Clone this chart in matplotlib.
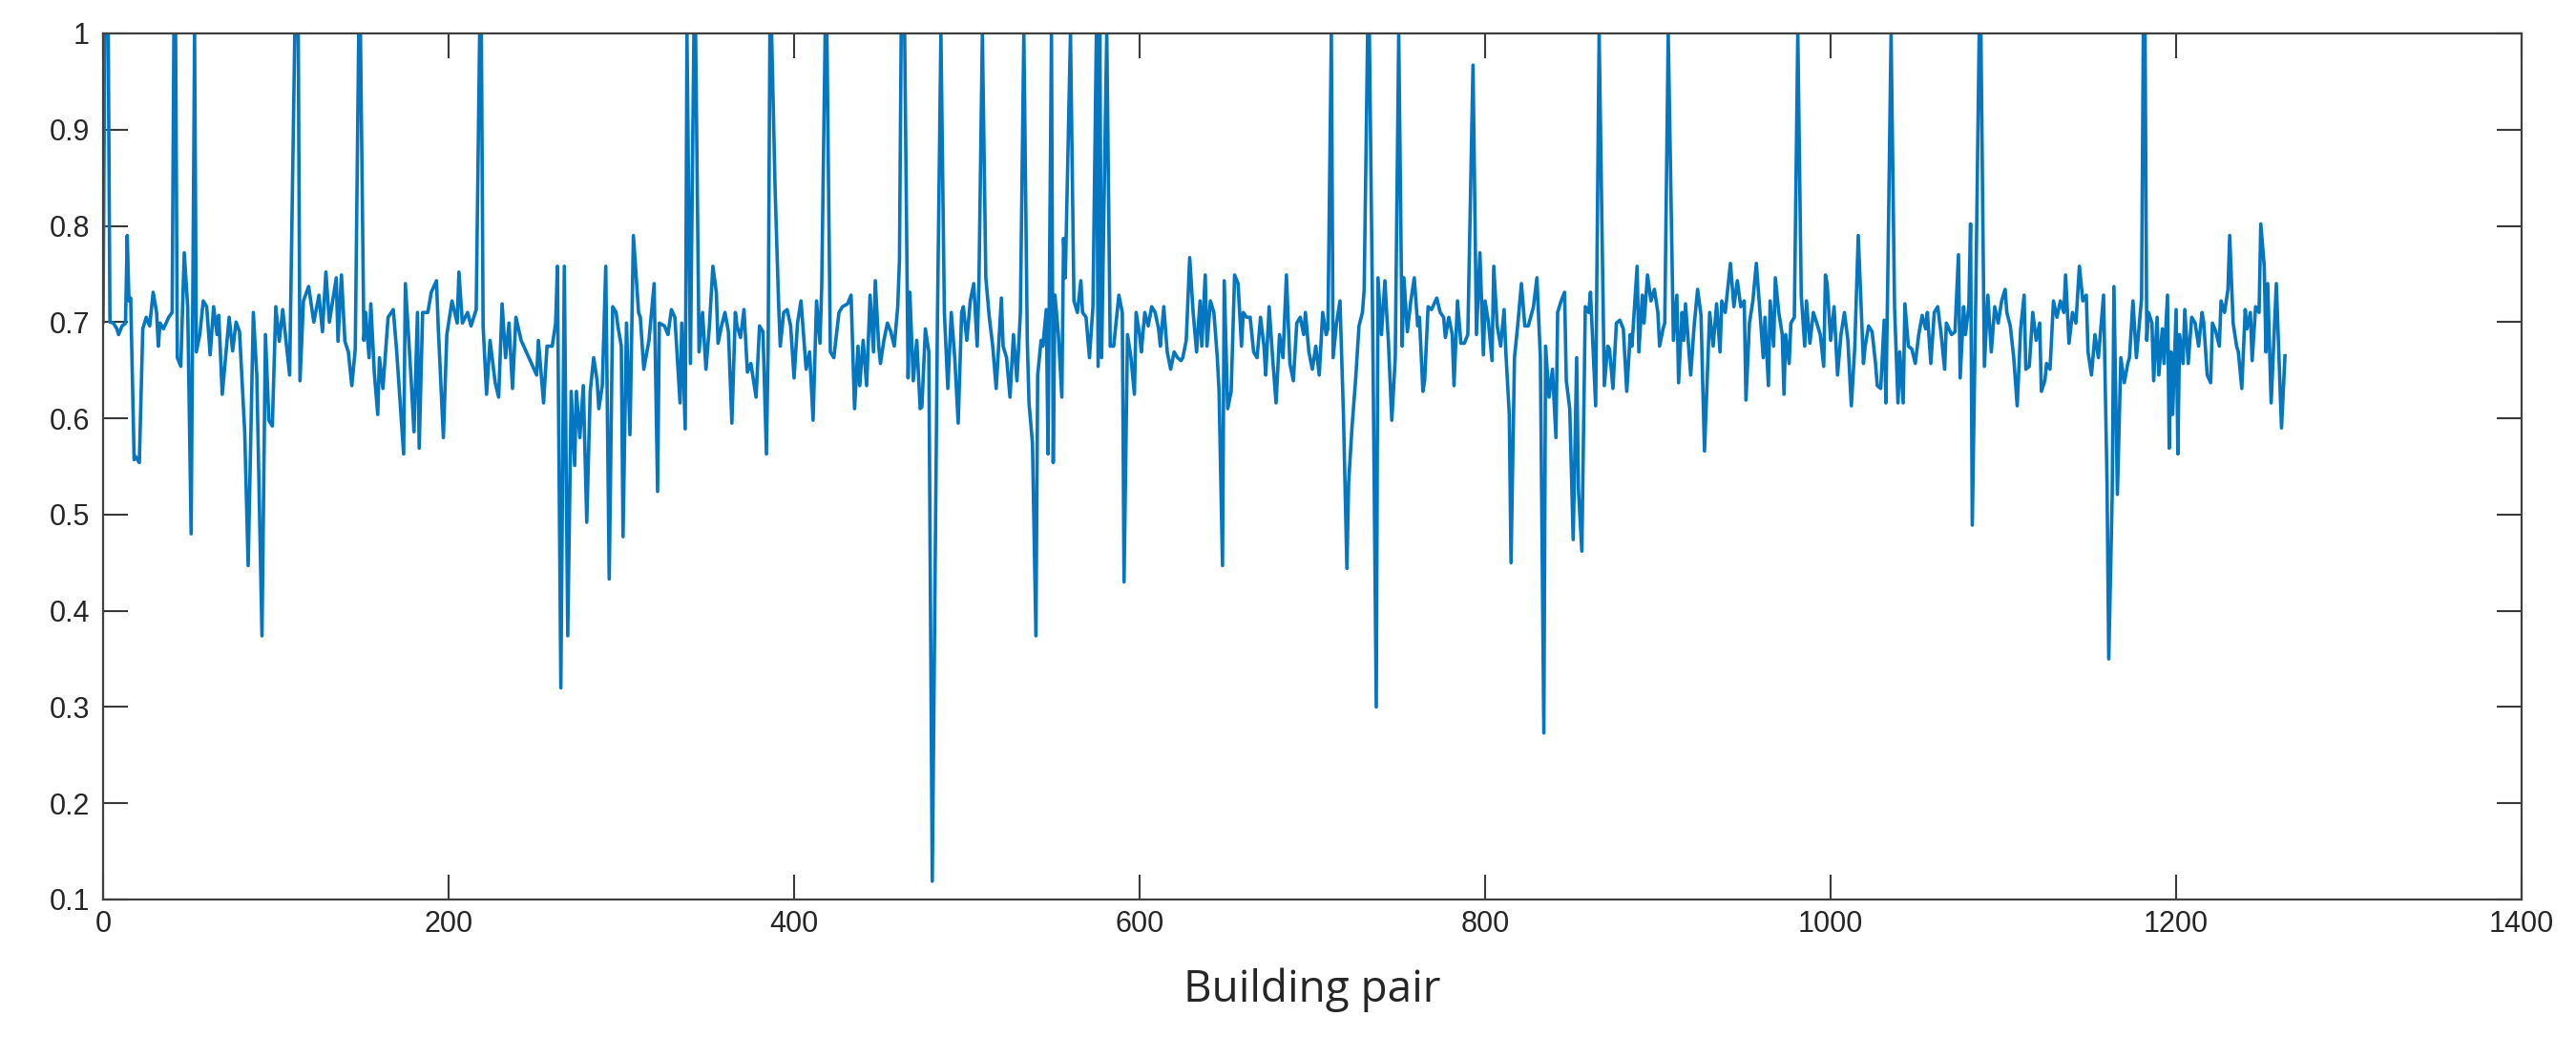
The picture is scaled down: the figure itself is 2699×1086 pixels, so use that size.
import matplotlib.pyplot as plt

plt.rcParams['font.family'] = ['Liberation Sans', 'DejaVu Sans']

# (building pair index, similarity), segment by segment
seg_0_150 = [(0, 0.70), (1, 1.0), (3, 1.0), (4, 0.70), (6, 0.699), (8, 0.693), (9, 0.687), (11, 0.696),
             (13, 0.699), (14, 0.790), (15, 0.722), (16, 0.725), (18, 0.557), (19, 0.560), (21, 0.554),
             (23, 0.693), (25, 0.705), (27, 0.696), (29, 0.731), (31, 0.710), (32, 0.675), (33, 0.699),
             (35, 0.693), (38, 0.705), (40, 0.710), (41, 1.0), (42, 1.0), (43, 0.663), (45, 0.654),
             (47, 0.772), (49, 0.716), (51, 0.480), (53, 1.0), (54, 0.669), (56, 0.687), (58, 0.722),
             (60, 0.716), (62, 0.666), (64, 0.716), (66, 0.687), (67, 0.707), (69, 0.625), (73, 0.705),
             (75, 0.670), (77, 0.700), (79, 0.690), (82, 0.586), (84, 0.447), (87, 0.710), (89, 0.645),
             (92, 0.374), (94, 0.687), (96, 0.598), (98, 0.592), (100, 0.716), (102, 0.680), (104, 0.713),
             (108, 0.645), (111, 1.0), (113, 1.0), (114, 0.639), (116, 0.722), (119, 0.737), (122, 0.700),
             (125, 0.728), (127, 0.690), (129, 0.752), (131, 0.700), (135, 0.746), (136, 0.680),
             (138, 0.749), (140, 0.680), (142, 0.669), (144, 0.634), (146, 0.672), (148, 1.0), (149, 1.0)]

seg_150_295 = [(151, 0.681), (152, 0.710), (154, 0.663), (155, 0.719), (157, 0.648), (159, 0.604),
               (160, 0.663), (162, 0.631), (165, 0.705), (168, 0.713), (170, 0.669), (174, 0.563),
               (175, 0.740), (178, 0.651), (180, 0.586), (182, 0.710), (183, 0.569), (185, 0.710),
               (188, 0.710), (190, 0.731), (193, 0.743), (194, 0.696), (197, 0.580), (199, 0.687),
               (202, 0.722), (205, 0.699), (206, 0.752), (208, 0.699), (211, 0.710), (213, 0.696),
               (216, 0.713), (218, 1.0), (219, 1.0), (220, 0.696), (222, 0.625), (224, 0.681), (227, 0.637),
               (229, 0.622), (231, 0.719), (233, 0.663), (235, 0.699), (237, 0.631), (239, 0.705),
               (242, 0.681), (245, 0.669), (248, 0.657), (251, 0.645), (252, 0.681), (255, 0.616),
               (257, 0.675), (260, 0.675), (262, 0.699), (263, 0.758), (265, 0.320), (267, 0.758),
               (269, 0.374), (271, 0.628), (273, 0.551), (274, 0.628), (276, 0.580), (278, 0.634),
               (280, 0.492), (282, 0.628), (284, 0.663), (286, 0.639), (287, 0.610), (289, 0.634),
               (291, 0.758), (293, 0.433)]

seg_295_445 = [(295, 0.716), (297, 0.710), (298, 0.696), (300, 0.675), (301, 0.477), (303, 0.699),
               (305, 0.583), (306, 0.687), (307, 0.790), (310, 0.710), (311, 0.705), (313, 0.651),
               (316, 0.681), (319, 0.740), (321, 0.524), (322, 0.699), (325, 0.696), (327, 0.687),
               (329, 0.713), (331, 0.705), (334, 0.616), (335, 0.699), (337, 0.589), (338, 1.0),
               (340, 0.657), (342, 1.0), (343, 1.0), (345, 0.669), (347, 0.710), (349, 0.651), (351, 0.696),
               (353, 0.758), (355, 0.731), (356, 0.678), (358, 0.696), (360, 0.710), (362, 0.690),
               (364, 0.595), (366, 0.710), (367, 0.696), (369, 0.684), (371, 0.713), (373, 0.648),
               (375, 0.657), (378, 0.622), (380, 0.696), (382, 0.690), (384, 0.563), (385, 0.675),
               (386, 1.0), (387, 1.0), (389, 0.840), (391, 0.722), (392, 0.675), (394, 0.710), (396, 0.713),
               (398, 0.696), (400, 0.642), (402, 0.699), (404, 0.722), (407, 0.651), (409, 0.669),
               (411, 0.598), (413, 0.722), (415, 0.678), (416, 0.737), (418, 1.0), (419, 1.0), (421, 0.669),
               (423, 0.663), (426, 0.710), (428, 0.716), (431, 0.719), (433, 0.728), (435, 0.610),
               (437, 0.675), (438, 0.634), (440, 0.681), (442, 0.634), (444, 0.728)]

seg_445_592 = [(446, 0.669), (447, 0.743), (449, 0.675), (450, 0.657), (452, 0.681), (454, 0.699),
               (456, 0.690), (458, 0.675), (460, 0.716), (461, 0.764), (462, 1.0), (464, 1.0), (466, 0.642),
               (467, 0.731), (469, 0.639), (471, 0.681), (473, 0.610), (474, 0.612), (476, 0.693),
               (478, 0.669), (480, 0.119), (483, 0.705), (485, 1.0), (487, 0.710), (489, 0.631),
               (491, 0.710), (493, 0.663), (495, 0.595), (497, 0.710), (498, 0.716), (500, 0.681),
               (502, 0.722), (504, 0.740), (506, 0.675), (507, 0.740), (509, 1.0), (511, 0.746),
               (513, 0.705), (515, 0.675), (517, 0.631), (520, 0.725), (521, 0.675), (523, 0.663),
               (525, 0.622), (527, 0.687), (529, 0.639), (531, 0.710), (533, 1.0), (535, 0.681),
               (536, 0.616), (538, 0.574), (540, 0.374), (541, 0.645), (543, 0.681), (544, 0.675),
               (546, 0.713), (547, 0.563), (549, 1.0), (550, 0.554), (551, 0.728), (553, 0.687),
               (555, 0.622), (556, 0.787), (557, 0.746), (560, 1.0), (562, 0.722), (564, 0.710),
               (566, 0.743), (567, 0.710), (569, 0.705), (571, 0.663), (573, 0.716), (575, 1.0),
               (576, 0.654), (577, 1.0), (578, 0.663), (581, 1.0), (583, 0.675), (585, 0.675), (588, 0.728),
               (590, 0.710), (591, 0.430)]

seg_592_744 = [(593, 0.687), (595, 0.663), (597, 0.625), (598, 0.710), (600, 0.687), (601, 0.669),
               (603, 0.710), (605, 0.696), (607, 0.716), (609, 0.710), (611, 0.693), (612, 0.675),
               (614, 0.716), (616, 0.669), (618, 0.651), (620, 0.669), (622, 0.663), (624, 0.660),
               (625, 0.663), (627, 0.681), (629, 0.767), (631, 0.710), (633, 0.669), (635, 0.722),
               (636, 0.675), (638, 0.749), (639, 0.675), (641, 0.722), (643, 0.710), (645, 0.663),
               (646, 0.628), (648, 0.447), (649, 0.743), (651, 0.610), (653, 0.628), (655, 0.749),
               (657, 0.740), (659, 0.675), (660, 0.710), (662, 0.705), (664, 0.705), (666, 0.669),
               (668, 0.663), (670, 0.705), (672, 0.675), (673, 0.645), (675, 0.716), (677, 0.663),
               (679, 0.616), (681, 0.687), (683, 0.663), (685, 0.749), (687, 0.657), (689, 0.639),
               (691, 0.699), (693, 0.705), (695, 0.687), (696, 0.710), (698, 0.669), (700, 0.651),
               (702, 0.675), (704, 0.645), (706, 0.710), (708, 0.687), (709, 0.693), (711, 1.0),
               (712, 0.663), (714, 0.699), (716, 0.722), (718, 0.604), (720, 0.444), (721, 0.533),
               (723, 0.592), (725, 0.639), (727, 0.696), (729, 0.710), (730, 0.734), (732, 1.0), (733, 1.0),
               (735, 0.687), (737, 0.300), (738, 0.746), (740, 0.687), (742, 0.743), (743, 0.710)]

seg_744_893 = [(744, 0.681), (746, 0.598), (748, 0.663), (750, 1.0), (752, 0.675), (753, 0.746),
               (755, 0.690), (757, 0.722), (759, 0.746), (761, 0.696), (762, 0.705), (764, 0.628),
               (765, 0.639), (767, 0.716), (769, 0.713), (772, 0.725), (774, 0.710), (776, 0.705),
               (777, 0.684), (779, 0.705), (781, 0.687), (782, 0.634), (784, 0.722), (786, 0.678),
               (788, 0.678), (790, 0.687), (793, 0.967), (795, 0.687), (797, 0.772), (799, 0.666),
               (800, 0.722), (802, 0.699), (804, 0.660), (805, 0.758), (807, 0.696), (809, 0.675),
               (811, 0.713), (812, 0.669), (814, 0.604), (815, 0.450), (817, 0.663), (819, 0.699),
               (821, 0.740), (823, 0.696), (825, 0.696), (828, 0.716), (830, 0.746), (832, 0.663),
               (834, 0.273), (835, 0.675), (837, 0.622), (839, 0.651), (841, 0.580), (842, 0.710),
               (844, 0.722), (846, 0.731), (847, 0.639), (849, 0.610), (851, 0.474), (853, 0.663),
               (854, 0.527), (856, 0.462), (858, 0.716), (860, 0.710), (861, 0.731), (864, 0.613),
               (866, 1.0), (869, 0.634), (871, 0.675), (872, 0.672), (874, 0.631), (876, 0.699),
               (878, 0.702), (880, 0.693), (882, 0.628), (884, 0.687), (885, 0.675), (888, 0.758),
               (889, 0.669), (891, 0.728), (892, 0.699)]

seg_893_1042 = [(894, 0.749), (896, 0.722), (898, 0.734), (900, 0.710), (901, 0.675), (903, 0.693),
                (904, 0.699), (906, 1.0), (909, 0.681), (911, 0.728), (912, 0.637), (914, 0.710),
                (915, 0.681), (916, 0.719), (919, 0.645), (921, 0.696), (923, 0.734), (925, 0.707),
                (926, 0.634), (927, 0.566), (929, 0.663), (930, 0.710), (932, 0.675), (934, 0.719),
                (936, 0.669), (937, 0.722), (939, 0.710), (942, 0.761), (944, 0.716), (946, 0.743),
                (948, 0.716), (950, 0.722), (951, 0.619), (953, 0.699), (955, 0.722), (957, 0.761),
                (959, 0.713), (961, 0.663), (962, 0.705), (964, 0.634), (965, 0.722), (967, 0.675),
                (968, 0.746), (970, 0.710), (972, 0.687), (973, 0.625), (974, 0.687), (976, 0.657),
                (977, 0.699), (979, 0.705), (981, 1.0), (983, 0.728), (985, 0.675), (986, 0.722),
                (988, 0.678), (990, 0.710), (992, 0.699), (994, 0.687), (996, 0.654), (997, 0.749),
                (998, 0.740), (1000, 0.681), (1002, 0.716), (1004, 0.645), (1006, 0.687), (1008, 0.710),
                (1010, 0.681), (1012, 0.613), (1014, 0.675), (1016, 0.790), (1019, 0.657), (1020, 0.675),
                (1022, 0.696), (1024, 0.690), (1026, 0.657), (1027, 0.634), (1029, 0.631), (1031, 0.702),
                (1032, 0.616), (1033, 0.734), (1035, 1.0), (1037, 0.716), (1039, 0.616), (1040, 0.669),
                (1042, 0.616)]

seg_1042_1183 = [(1043, 0.719), (1045, 0.675), (1047, 0.672), (1049, 0.657), (1051, 0.687), (1053, 0.707),
                 (1055, 0.693), (1056, 0.710), (1058, 0.657), (1060, 0.710), (1062, 0.716), (1064, 0.687),
                 (1066, 0.651), (1067, 0.699), (1070, 0.687), (1072, 0.690), (1074, 0.770), (1075, 0.642),
                 (1077, 0.716), (1078, 0.687), (1080, 0.716), (1081, 0.802), (1082, 0.489), (1084, 0.722),
                 (1086, 1.0), (1087, 1.0), (1089, 0.654), (1091, 0.728), (1093, 0.669), (1095, 0.716),
                 (1097, 0.699), (1099, 0.722), (1101, 0.734), (1102, 0.710), (1104, 0.696), (1106, 0.663),
                 (1108, 0.613), (1110, 0.693), (1112, 0.728), (1113, 0.651), (1115, 0.654), (1117, 0.710),
                 (1119, 0.681), (1121, 0.699), (1122, 0.628), (1124, 0.639), (1125, 0.657), (1127, 0.651),
                 (1129, 0.722), (1131, 0.705), (1133, 0.722), (1135, 0.710), (1136, 0.749), (1138, 0.678),
                 (1140, 0.710), (1142, 0.699), (1144, 0.758), (1146, 0.722), (1148, 0.728), (1149, 0.669),
                 (1151, 0.645), (1153, 0.687), (1155, 0.663), (1158, 0.728), (1160, 0.533), (1161, 0.350),
                 (1163, 0.521), (1164, 0.737), (1166, 0.521), (1168, 0.663), (1170, 0.637), (1172, 0.657),
                 (1173, 0.663), (1175, 0.722), (1177, 0.663), (1180, 0.725), (1181, 1.0), (1182, 1.0)]

seg_1183_end = [(1183, 0.681), (1184, 0.710), (1186, 0.699), (1187, 0.639), (1189, 0.705), (1190, 0.645),
                (1192, 0.693), (1193, 0.657), (1195, 0.728), (1196, 0.569), (1197, 0.669), (1198, 0.604),
                (1200, 0.713), (1201, 0.563), (1202, 0.687), (1204, 0.657), (1205, 0.713), (1207, 0.657),
                (1209, 0.705), (1211, 0.699), (1213, 0.675), (1215, 0.710), (1216, 0.699), (1218, 0.645),
                (1220, 0.637), (1221, 0.699), (1223, 0.690), (1225, 0.675), (1226, 0.722), (1228, 0.710),
                (1230, 0.734), (1231, 0.790), (1233, 0.699), (1235, 0.675), (1236, 0.669), (1238, 0.631),
                (1240, 0.713), (1241, 0.693), (1243, 0.710), (1244, 0.660), (1246, 0.716), (1248, 0.710),
                (1249, 0.802), (1251, 0.758), (1252, 0.669), (1253, 0.740), (1255, 0.616), (1258, 0.740),
                (1261, 0.590), (1263, 0.665)]

x_ticks = [0, 200, 400, 600, 800, 1000, 1200, 1400]
y_ticks = [0.1, 0.2, 0.3, 0.4, 0.5, 0.6, 0.7, 0.8, 0.9, 1.0]
y_tick_labels = ['0.1', '0.2', '0.3', '0.4', '0.5', '0.6', '0.7', '0.8', '0.9', '1']

readings = (seg_0_150 + seg_150_295 + seg_295_445 + seg_445_592 + seg_592_744
            + seg_744_893 + seg_893_1042 + seg_1042_1183 + seg_1183_end)
pair = [p for p, v in readings]
similarity = [v for p, v in readings]

fig = plt.figure(figsize=(26.99, 10.86), dpi=100)
ax = fig.add_axes([0.040, 0.1326, 0.9389, 0.8352])

ax.plot(pair, similarity, color='#0576C0', linewidth=2.6)

ax.set_xlim(0, 1400)
ax.set_ylim(0.1, 1)
ax.set_xticks(x_ticks)
ax.set_yticks(y_ticks)
ax.set_yticklabels(y_tick_labels)

ax.tick_params(direction='in', length=19, width=1.5, top=True, right=True,
               labelsize=22, colors='#3a3a3a', labelcolor='#262626')
ax.tick_params(axis='y', pad=10)
ax.tick_params(axis='x', pad=8)
for s in ax.spines.values():
    s.set_linewidth(1.6)
    s.set_color('#404040')

ax.set_xlabel('Building pair', fontsize=33, family=['Open Sans', 'DejaVu Sans'],
              color='#262626', labelpad=22)

fig.savefig('out.png', dpi=100)
